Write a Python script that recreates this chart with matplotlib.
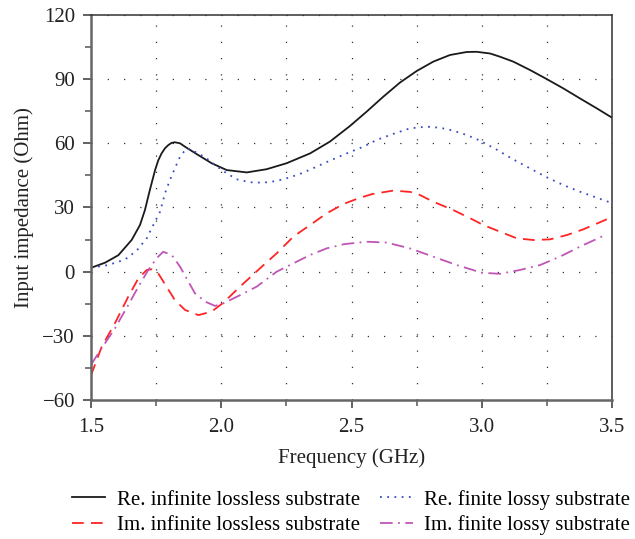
import matplotlib
matplotlib.use("Agg")
import matplotlib.pyplot as plt
from matplotlib.ticker import MultipleLocator

plt.rcParams['font.family'] = ['Liberation Serif', 'DejaVu Serif']
plt.rcParams['axes.unicode_minus'] = True

# Re. infinite lossless substrate
re_inf_x = [1.50, 1.554, 1.605, 1.656, 1.688, 1.707, 1.726, 1.746, 1.758, 1.771,
            1.784, 1.797, 1.809, 1.822, 1.842, 1.861, 1.912, 1.963, 2.021, 2.098,
            2.174, 2.251, 2.341, 2.417, 2.494, 2.558, 2.622, 2.686, 2.75, 2.814,
            2.878, 2.942, 2.98, 3.032, 3.07, 3.121, 3.185, 3.25, 3.313, 3.377,
            3.441, 3.50]
re_inf_y = [1.8, 4.2, 7.7, 14.8, 21.8, 28.8, 38.2, 47.5, 52.0, 55.3,
            57.7, 59.2, 60.2, 60.5, 60.0, 58.4, 54.5, 50.7, 47.5, 46.4,
            47.9, 50.7, 55.3, 60.8, 68.1, 74.8, 81.8, 88.4, 93.8, 98.2,
            101.3, 102.7, 102.8, 102.0, 100.5, 98.2, 94.3, 90.0, 85.7, 81.0,
            76.4, 72.0]

# Re. finite lossy substrate
re_fin_x = [1.50, 1.566, 1.631, 1.675, 1.714, 1.739, 1.765, 1.784, 1.803, 1.822,
            1.842, 1.867, 1.899, 1.938, 1.976, 2.008, 2.059, 2.11, 2.161, 2.213,
            2.264, 2.315, 2.366, 2.417, 2.482, 2.545, 2.597, 2.66, 2.724, 2.789,
            2.84, 2.891, 2.942, 2.987, 3.051, 3.121, 3.185, 3.25, 3.313, 3.377,
            3.441, 3.492]
re_fin_y = [1.8, 3.1, 5.7, 9.8, 15.6, 21.8, 28.0, 36.6, 42.9, 48.3,
            53.8, 57.7, 56.1, 53.5, 49.9, 47.0, 43.2, 41.8, 41.6, 42.4,
            44.1, 46.3, 49.1, 51.9, 55.3, 58.4, 61.6, 64.4, 67.0, 67.8,
            67.3, 65.9, 63.9, 61.6, 57.5, 52.5, 48.3, 44.1, 40.5, 37.4,
            34.6, 32.4]

# Im. infinite lossless substrate
im_inf_x = [1.50, 1.541, 1.592, 1.643, 1.682, 1.714, 1.733, 1.758, 1.79, 1.822,
            1.861, 1.912, 1.963, 2.008, 2.072, 2.149, 2.213, 2.277, 2.341, 2.405,
            2.469, 2.526, 2.58, 2.66, 2.724, 2.75, 2.814, 2.891, 2.968, 3.006,
            3.07, 3.134, 3.198, 3.262, 3.326, 3.39, 3.467, 3.48]
im_inf_y = [-48.5, -35.1, -24.1, -11.7, -3.1, 0.8, 1.1, -0.8, -7.0, -13.3,
            -17.9, -20.3, -18.7, -14.5, -7.0, 1.6, 8.6, 16.4, 21.8, 27.3,
            31.6, 34.3, 36.3, 37.9, 37.3, 36.6, 32.7, 28.8, 24.2, 21.8,
            18.7, 15.6, 14.8, 15.1, 17.1, 19.8, 23.8, 24.5]

# Im. finite lossy substrate
im_fin_x = [1.50, 1.541, 1.592, 1.643, 1.682, 1.72, 1.752, 1.777, 1.81, 1.842,
            1.874, 1.899, 1.938, 1.976, 2.008, 2.072, 2.136, 2.213, 2.277, 2.341,
            2.405, 2.469, 2.526, 2.558, 2.635, 2.724, 2.814, 2.904, 3.0, 3.07,
            3.147, 3.224, 3.3, 3.377, 3.475]
im_fin_y = [-43.5, -35.8, -26.5, -15.6, -7.0, 0.8, 6.3, 9.3, 7.8, 2.3,
            -4.7, -10.1, -14.0, -16.0, -14.8, -11.0, -7.0, 0.0, 3.9, 7.8,
            10.9, 12.8, 13.6, 14.0, 13.6, 10.9, 7.0, 3.1, -0.5, -1.0,
            0.8, 3.1, 7.0, 11.7, 17.2]

labels = ["Re. infinite lossless substrate", "Im. infinite lossless substrate",
          "Re. finite lossy substrate", "Im. finite lossy substrate"]

x_ticks = [1.5, 2.0, 2.5, 3.0, 3.5]
x_ticklabels = ["1.5", "2.0", "2.5", "3.0", "3.5"]
y_ticks = [-60, -30, 0, 30, 60, 90, 120]

fig = plt.figure(figsize=(6.35, 5.39), dpi=100)
ax = fig.add_axes([91/635, 1 - 400/539, (612 - 91)/635, (400 - 15)/539])

l1, = ax.plot(re_inf_x, re_inf_y, color='#1a1a1a', lw=1.3, ls='-')
l3, = ax.plot(re_fin_x, re_fin_y, color='#3a4cc0', lw=1.3, ls=(0, (1, 3)))
l2, = ax.plot(im_inf_x, im_inf_y, color='#ff2424', lw=1.3, ls=(0, (6.5, 4)))
l4, = ax.plot(im_fin_x, im_fin_y, color='#c055b8', lw=1.3, ls=(0, (7, 3, 1, 3)))

ax.set_xlim(1.5, 3.5)
ax.set_ylim(-60, 120)
ax.set_xticks(x_ticks)
ax.set_xticklabels(x_ticklabels)
ax.set_yticks(y_ticks)
ax.xaxis.set_minor_locator(MultipleLocator(0.25))
ax.yaxis.set_minor_locator(MultipleLocator(15))

ax.grid(which='both', axis='x', color='#333333', ls=(0, (1, 12)), lw=0.9)
ax.grid(which='major', axis='y', color='#333333', ls=(0, (1, 12)), lw=0.9)

for side in ['left', 'bottom']:
    ax.spines[side].set_color('#666666')
    ax.spines[side].set_linewidth(1.8)
for side in ['top', 'right']:
    ax.spines[side].set_color('#333333')
    ax.spines[side].set_linewidth(1.1)

ax.tick_params(which='major', direction='out', length=6, width=1.3, color='#555555',
               labelsize=15, labelcolor='#222222', pad=5.5)
ax.tick_params(which='minor', direction='out', length=4, width=1.1, color='#555555')
ax.tick_params(axis='x', which='major', pad=7)

ax.set_xlabel("Frequency (GHz)", fontsize=15, color='#222222', labelpad=8)
ax.set_ylabel("Input impedance (Ohm)", fontsize=15, color='#222222', labelpad=6)

fig.legend([l1, l2, l3, l4], labels, ncol=2, loc='center',
           bbox_to_anchor=(0.553, 0.049), frameon=False, fontsize=15,
           handlelength=1.6, handletextpad=0.55, columnspacing=0.95,
           labelspacing=0.28, borderpad=0.2)

fig.savefig("out.png", dpi=100)
